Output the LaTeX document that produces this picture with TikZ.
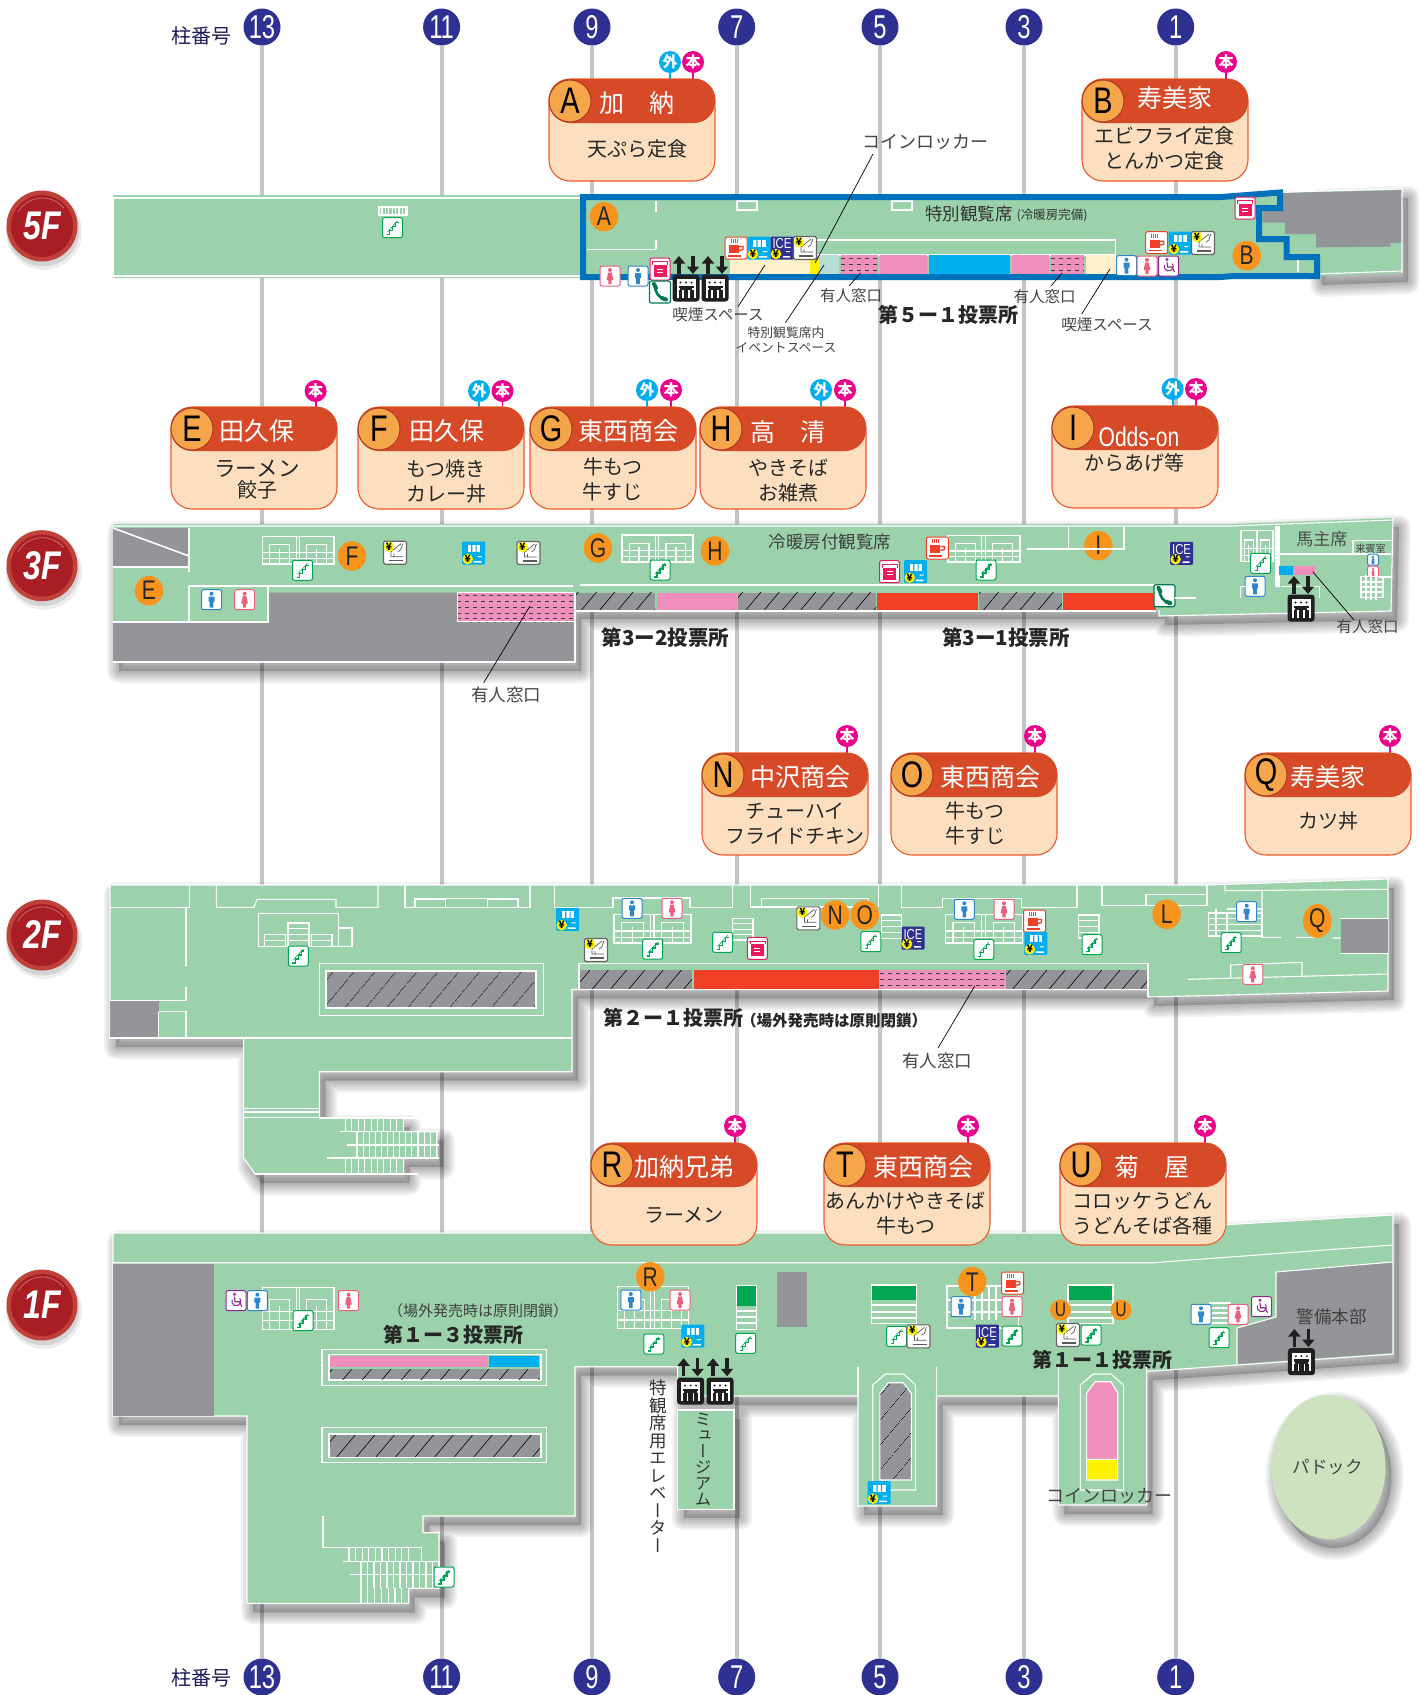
\documentclass[tikz,border=0pt]{standalone}
\usepackage{fontspec}
\usetikzlibrary{shapes.geometric,arrows.meta,patterns.meta,calc}
\setmainfont{Noto Sans CJK JP}
\newfontfamily\condfont[FakeStretch=0.78]{Liberation Sans}
\newfontfamily\numfont[FakeStretch=0.72]{Liberation Sans}
\newfontfamily\vertfont[RawFeature=+vert]{Noto Sans CJK JP}
\newfontfamily\badgefont[FakeStretch=0.8]{Liberation Sans}
\definecolor{floorc}{HTML}{9BD2AB}
\definecolor{grayc}{HTML}{939598}
\definecolor{pinkc}{HTML}{EF8FBB}
\definecolor{bluec}{HTML}{00AEEF}
\definecolor{redc}{HTML}{F04128}
\definecolor{creamc}{HTML}{FDF1CB}
\definecolor{tealc}{HTML}{B6DCD3}
\definecolor{yellowc}{HTML}{FFF200}
\definecolor{framec}{HTML}{0072BC}
\definecolor{colc}{HTML}{C4C5C7}
\definecolor{navyc}{HTML}{2E3192}
\definecolor{panelc}{HTML}{FDDFC0}
\definecolor{panelb}{HTML}{EE5A2B}
\definecolor{headc}{HTML}{D64A28}
\definecolor{badgec}{HTML}{F5A54A}
\definecolor{markc}{HTML}{F7941E}
\definecolor{stairc}{HTML}{00A651}
\definecolor{menc}{HTML}{2F86CC}
\definecolor{womenc}{HTML}{EE5F7C}
\definecolor{purc}{HTML}{92278F}
\definecolor{magc}{HTML}{EC008C}
\definecolor{labc}{HTML}{444444}
\definecolor{phonec}{HTML}{007A4D}
\definecolor{atmc}{HTML}{EC1C5C}
\definecolor{badgeo}{HTML}{C0403A}
\definecolor{badgei}{HTML}{A81E24}
\definecolor{paddockc}{HTML}{CDE3C0}
\tikzset{
 wl/.style={draw=white,line width=1.1},
 wlt/.style={draw=white,line width=1.6},
 lbl/.style={text=labc,inner sep=0,font=\fontsize{15.5}{16}\selectfont},
 lblb/.style={text=labc,inner sep=0,font=\fontsize{17.5}{18}\selectfont},
 lblc/.style={text=labc,inner sep=0,font=\fontsize{18}{18}\selectfont},
 vote/.style={text=black!85,inner sep=0,font=\fontsize{20}{20}\selectfont\bfseries},
 leaderline/.style={draw=black,line width=.7},
 colnum/.style={circle,fill=navyc,text=white,minimum size=37,inner sep=0,font=\fontsize{33}{33}\selectfont\numfont},
 colline/.style={draw=colc,line width=4},
 mk/.style={ellipse,fill=markc,minimum width=28.5,minimum height=29.5,inner sep=0,font=\fontsize{27}{27}\selectfont\condfont,text=black!85},
 mksmall/.style={mk,minimum width=21,minimum height=21,font=\fontsize{20}{20}\selectfont\condfont},
 ibox/.style={fill=white,rounded corners=2,line width=1},
 pin/.style={circle,minimum size=22,inner sep=0,text=white,font=\fontsize{15}{15}\selectfont\bfseries},
 yen/.style={circle,fill=yellowc,minimum size=10.5,inner sep=0,text=black,font=\fontsize{10}{10}\selectfont\bfseries},
}
\newcommand{\Rc}[5]{\fill[#1] (#2,#3) rectangle (#4,#5);}
\newcommand{\Softshadow}[1]{\begin{scope}[shift={(6,9)}]\foreach \w in {24,20,16,12,8,4}{\draw[black,draw opacity=.05,fill=black,fill opacity=.03,line width=\w,line join=round] #1;}\end{scope}}
\newcommand{\Hatch}[5][13]{\fill[grayc] (#2,#3) rectangle (#4,#5);\fill[pattern={Lines[angle=50,distance=#1pt,line width=.6pt]},pattern color=black] (#2,#3) rectangle (#4,#5);}
\newcommand{\DashPink}[5]{\fill[pinkc] (#1,#2) rectangle (#3,#4);\foreach \i in {1,...,#5}{\pgfmathsetmacro\yy{#2+(#4-#2)*(\i-.5)/#5}\draw[black!75,line width=.8,dash pattern=on 4 off 4] (#1,\yy) -- (#3,\yy);}}
\newcommand{\WRect}[4]{\draw[wl] (#1,#2) rectangle (#3,#4);}
\newcommand{\HGrid}[5]{\draw[wl] (#1,#2) rectangle (#3,#4);\foreach \i in {1,...,#5}{\pgfmathsetmacro\yy{#2+(#4-#2)*\i/(#5+1)}\draw[wl] (#1,\yy) -- (#3,\yy);}}
\newcommand{\VStair}[5]{\foreach \i in {0,...,#4}{\pgfmathsetmacro\xx{#1+#5*\i}\draw[wl] (\xx,#2) -- (\xx,#3);}}
\newcommand{\StairBlock}[4]{\pgfmathsetmacro\stW{(#3-#1)/100}\pgfmathsetmacro\stH{(#4-#2)/100}\begin{scope}[shift={(#1,#2)},x=\stW pt,y=-\stH pt]
 \draw[wl] (0,0) rectangle (100,100);\draw[wl] (47,0)--(47,100) (52,0)--(52,100);
 \draw[wl] (10,100)--(10,30)--(38,30)--(38,100) (62,100)--(62,30)--(90,30)--(90,100);
 \draw[wl] (0,58)--(100,58) (0,80)--(100,80) (24,45)--(24,100) (76,45)--(76,100);
\end{scope}}
\newcommand{\IconStairs}[2]{\begin{scope}[shift={(#1,#2)}]\draw[ibox,draw=stairc] (-10,-10) rectangle (10,10);\draw[stairc,line width=1.3] (-6,7)--(-3,7)--(-3,3)--(0,3)--(0,-1)--(3,-1)--(3,-5)--(6,-5);\draw[stairc,line width=.6] (-5,4)--(5,-7);\end{scope}}
\newcommand{\IconMen}[2]{\begin{scope}[shift={(#1,#2)}]\draw[ibox,draw=menc] (-10,-10) rectangle (10,10);\fill[menc] (0,-6) circle (2) (-3,-3) rectangle (3,2) (-1.8,2) rectangle (1.8,8);\end{scope}}
\newcommand{\IconWomen}[2]{\begin{scope}[shift={(#1,#2)}]\draw[ibox,draw=womenc] (-10,-10) rectangle (10,10);\fill[womenc] (0,-6) circle (2) (-1.8,-3.5)--(1.8,-3.5)--(3.4,4)--(-3.4,4)--cycle (-1.6,4) rectangle (1.6,8);\end{scope}}
\newcommand{\IconWheel}[2]{\begin{scope}[shift={(#1,#2)}]\draw[ibox,draw=purc] (-10,-10) rectangle (10,10);\fill[purc] (-1.5,-6.5) circle (1.6);\draw[purc,line width=1.1] (-1.5,-4)--(-1,1)--(3.5,1)--(6,6);\draw[purc,line width=1] (-4,-1) arc[start angle=200,end angle=-40,radius=4.5];\end{scope}}
\newcommand{\IconCoffee}[2]{\begin{scope}[shift={(#1,#2)}]\draw[ibox,draw=redc] (-11,-11) rectangle (11,11);\draw[redc,line width=.5] (-5,-9)--(-5,-5) (-3,-9)--(-3,-5) (-1,-9)--(-1,-5) (1,-9)--(1,-5);\fill[redc] (-7,-3) rectangle (3,5);\draw[redc,line width=1.4] (3,-1.5) -- (7,-1.5) -- (7,1.5) -- (3,2.5);\fill[redc] (-8,7) rectangle (5,8.5);\end{scope}}
\newcommand{\IconVend}[2]{\begin{scope}[shift={(#1,#2)}]\fill[bluec,rounded corners=1] (-11.5,-11.5) rectangle (11.5,11.5);\fill[white] (-6,-8) rectangle (6.5,-1);\fill[bluec] (-2.6,-8) rectangle (-1.4,-1) (1.8,-8) rectangle (3,-1);\fill[white] (0,8) rectangle (8,9.5) (4,3) rectangle (8,4);\node[yen] at (-6,6) {¥};\end{scope}}
\newcommand{\IconIce}[2]{\begin{scope}[shift={(#1,#2)}]\fill[navyc,rounded corners=1] (-11.5,-11.5) rectangle (11.5,11.5);\node[text=white,inner sep=0,font=\fontsize{14.5}{14}\selectfont\condfont] at (0,-4) {ICE};\fill[white] (1,8) rectangle (8,9.5) (4,3) rectangle (8,4);\node[yen] at (-6,6) {¥};\end{scope}}
\newcommand{\IconSmoke}[2]{\begin{scope}[shift={(#1,#2)}]\draw[fill=white,rounded corners=1.5,draw=black!60,line width=1.1] (-11.5,-11.5) rectangle (11.5,11.5);\draw[black!65,line width=1.4] (-6,8)--(8,8);\draw[black!65,line width=.7] (-4,4)--(-4,-1)--(6,-9) (-1,4)--(-1,1) (-4,4)--(8,4) (3,-1) .. controls (8,-3) and (6,-7) .. (8,-9);\node[yen] at (-6,-6) {¥};\end{scope}}
\newcommand{\IconAtm}[2]{\begin{scope}[shift={(#1,#2)}]\draw[ibox,draw=atmc] (-10,-11) rectangle (10,11);\fill[atmc] (-6.5,-4) rectangle (6.5,8);\draw[atmc,line width=.6] (-8,-7.5)--(8,-7.5)(-7.5,-7.5)--(-7.5,-4)(7.5,-7.5)--(7.5,-4);\draw[white,line width=.7] (-3,0)--(3,0) (-3,3)--(3,3);\end{scope}}
\newcommand{\IconPhone}[2]{\begin{scope}[shift={(#1,#2)}]\draw[ibox,draw=phonec,line width=1.2] (-10.5,-11) rectangle (10.5,11);\draw[phonec,line width=2.6] (-5,-7) .. controls (-5,1) and (-1,6) .. (6,8);\draw[phonec,line width=4,line cap=round] (-6,-8)--(-4,-4) (2,6)--(6,7.5);\end{scope}}
\newcommand{\IconElev}[2]{\begin{scope}[shift={(#1,#2)}]\fill[black!88,rounded corners=3] (-13.5,-13.5) rectangle (13.5,13.5);\fill[white] (-9.5,-9) rectangle (9.5,9.5);\fill[black!88] (-7.5,-2.5) rectangle (7.5,9.5);\fill[black!88] (-5.5,-5.5) circle (1.1) (0,-5.5) circle (1.1) (5.5,-5.5) circle (1.1);\draw[white,line width=1.2] (-3,2)--(-3,9.5) (3,2)--(3,9.5) (-7,2)--(-7,0) (7,2)--(7,0);\end{scope}}
\newcommand{\ElevArrows}[2]{\begin{scope}[shift={(#1,#2)}]\draw[black!88,line width=3.2,-{Triangle[width=12,length=7.5]}] (-7,9)--(-7,-9);\draw[black!88,line width=3.2,-{Triangle[width=12,length=7.5]}] (7,-9)--(7,9);\end{scope}}
\newcommand{\Mk}[4]{\node[mk] (#1) at (#2,#3) {#4};}
\newcommand{\ShopPanel}[9]{\draw[fill=panelc,draw=panelb,line width=1.1,rounded corners=21] (#2,#3) rectangle ++(166,102);\fill[headc,rounded corners=21] (#2,#3) rectangle ++(166,44);
 \node[circle,fill=badgec,draw=headc!80!black,line width=1,minimum size=42,inner sep=0,text=black,font=\fontsize{37}{37}\selectfont\condfont] (#1badge) at ($(#2,#3)+(21,22)$) {#4};
 \node[text=white,inner sep=0,font=\fontsize{25}{25}\selectfont] (#1title) at (#5,#6) {#7};
 \ShopBody{#1}#8#9}
\newcommand{\ShopBody}[4]{\node[align=center,text=black!85,inner sep=0,font=\fontsize{20}{25}\selectfont] (#1body) at (#2,#3) {#4};}
\newcommand{\PinHon}[3]{\draw[magc,line width=1.8] (#2,#3) -- ++(0,18);\node[pin,fill=magc] (#1) at (#2,#3) {本};}
\newcommand{\PinGai}[3]{\draw[bluec,line width=1.8] (#2,#3) -- ++(0,18);\node[pin,fill=bluec] (#1) at (#2,#3) {外};}
\newcommand{\FloorBadge}[3]{\begin{scope}[shift={(42,#2)}]\fill[black,opacity=.07] (2,6) circle (38);\fill[black,opacity=.1] (1,4) circle (36.5);\fill[badgeo] (0,0) circle (35.5);\fill[badgei] (0,0) circle (31);\draw[white,opacity=.35,line width=.8] (-24,-14) arc[start angle=210,end angle=320,radius=28];\node[text=white,inner sep=0,font=\fontsize{40}{40}\selectfont\badgefont\bfseries\itshape] (#1) at (0,0) {#3};\end{scope}}
\def\pFive{(113,195)--(1221,195)--(1402,189)--(1402,273)--(1316,276)--(1221,278)--(113,278)--cycle}
\def\pFiveEnd{(1310,192)--(1402,189)--(1402,273)--(1316,276)--cycle}
\def\pThree{(113,524)--(1230,524)--(1393,518)--(1391,611)--(1159,616)--(1159,610)--(575,610)--(575,662)--(113,662)--cycle}
\def\pTwo{(110,885)--(1207,885)--(1388,879)--(1388,991)--(1148,997)--(1148,989.5)--(572,989.5)--(572,1071.7)--(319.4,1071.7)--(319.4,1118)--(403.5,1118)--(403.5,1131.7)--(437,1131.7)--(437,1158)--(403.5,1158)--(403.5,1174)--(255,1174)--(243.6,1158)--(243.6,1038)--(110,1038)--cycle}
\def\pOne{(113,1233)--(1083,1233)--(1393,1215)--(1393,1354)--(1153,1371)--(1146.7,1371)--(1146.7,1505)--(1058.4,1505)--(1058.4,1396)--(936.5,1396)--(936.5,1506)--(858,1506)--(858,1396)--(677.6,1396)--(677.6,1366.7)--(575,1366.7)--(575,1516)--(423,1516)--(423,1532.7)--(439,1532.7)--(439,1588.3)--(408.7,1588.3)--(408.7,1603.3)--(247,1603.3)--(247,1416)--(113,1416)--cycle}
\def\pMuseum{(677.6,1410) rectangle (734,1509.3)}
\def\pPaddock{(1328.5,1467) ellipse [x radius=57pt,y radius=72pt]}
\begin{document}
\begin{tikzpicture}[x=1pt,y=-1pt]
\useasboundingbox (0,0) rectangle (1419,1695);
\fill[white] (0,0) rectangle (1419,1695);
\foreach \n/\x in {13/262,11/441.6,9/592,7/736.7,5/880,3/1024,1/1175.7}{
 \node[colnum] (top\n) at (\x,27) {\n};
 \node[colnum] (bot\n) at (\x,1677) {\n};
 \draw[colline] (top\n) -- (bot\n);
}
\node[text=navyc!60!black,inner sep=0,font=\fontsize{20}{20}\selectfont] (colA) at (201,36) {柱番号};
\node[text=navyc!60!black,inner sep=0,font=\fontsize{20}{20}\selectfont] (colB) at (201,1678) {柱番号};
\Softshadow{\pFiveEnd}\Softshadow{\pThree}\Softshadow{\pTwo}\Softshadow{\pOne}\Softshadow{\pMuseum}\Softshadow{\pPaddock}
\FloorBadge{f5}{226}{5F}\FloorBadge{f3}{565.7}{3F}\FloorBadge{f2}{935}{2F}\FloorBadge{f1}{1305}{1F}
% ============ 5F
\fill[floorc] \pFive;
\draw[wl] (113,198)--(1221,198) (113,276)--(1221,276) (113,198)--(113,276);
\fill[grayc] (1280.6,193)--(1401.8,190)--(1401.8,242.7)--(1390.5,243)--(1390.5,246.7)--(1316,247.3)--(1316,234)--(1285,234)--(1285,222.7)--(1262.5,222.7)--(1262.5,209.3)--(1280.6,209.3)--cycle;
\draw[wl] (1316,274)--(1402,271) (1280.6,192)--(1402,189)--(1402,273);
\draw[wl] (379,207) rectangle (407,215);\VStair{382}{207}{215}{7}{3.4}
\IconStairs{392.6}{227.7}
\draw[wl] (587,249.3)--(656,249.3) (656,201)--(656,212) (656,240)--(656,249.3);
\WRect{737}{201}{757}{210}\WRect{892}{201}{912}{210}
\node[text=black!80,inner sep=0,font=\fontsize{17.5}{18}\selectfont] (l5a) at (969,214) {特別観覧席};
\node[text=black!80,inner sep=0,font=\fontsize{12.5}{13}\selectfont] (l5b) at (1052,215.5) {(冷暖房完備)};
\draw[wl] (816,240)--(1115.6,240)--(1115.6,255);
\draw[wlt] (816,255)--(1115.6,255);
\Rc{creamc}{730}{259}{810}{274}\Rc{yellowc}{810}{259}{818.5}{274}\Rc{tealc}{818.5}{255}{839}{274}
\DashPink{841}{255}{878}{274}{3}\Rc{pinkc}{880}{255}{927}{274}\Rc{bluec}{929}{255}{1010}{274}
\Rc{pinkc}{1012}{255}{1049}{274}\DashPink{1050.5}{255}{1084}{274}{3}\Rc{creamc}{1086}{255}{1116}{274}
\draw[wl] (1298,258)--(1298,272);
\draw[framec,line width=6,line join=miter] (583,197)--(1221,197)--(1280,192.5)--(1280,208)--(1259,208)--(1259,239)--(1286.5,239)--(1286.5,257)--(1317,257)--(1317,276)--(1234,276)--(1221,277)--(583,277)--cycle;
\Mk{mA}{604}{216.7}{A}\Mk{mB}{1246.7}{255.7}{B}
\IconWomen{610}{276}\IconMen{638}{276}\IconAtm{660}{269}\IconPhone{660}{292}
\IconElev{686}{288}\IconElev{715}{288}\ElevArrows{686}{265}\ElevArrows{715}{265}
\IconCoffee{736}{248}\IconVend{759}{248}\IconIce{782}{248}\IconSmoke{805}{248}
\IconMen{1126.5}{265.7}\IconWomen{1147}{266}\IconWheel{1168.5}{266}
\IconCoffee{1156.7}{242.7}\IconVend{1180}{243}\IconSmoke{1203}{243}\IconAtm{1245}{208}
\node[lblc] (l5c) at (925,141.7) {コインロッカー};
\coordinate (c5c) at (815,263);\coordinate (c5cs) at (873,154);\draw[leaderline] (c5cs)--(c5c);
\coordinate (c5d) at (824,265);\coordinate (c5ds) at (785.5,322.7);\draw[leaderline] (c5ds)--(c5d);
\coordinate (c5e) at (765,265);\coordinate (c5es) at (738,306.7);\draw[leaderline] (c5es)--(c5e);
\coordinate (c5f) at (860.6,273);\coordinate (c5fs) at (849,286);\draw[leaderline] (c5fs)--(c5f);
\coordinate (c5g) at (1062,273);\coordinate (c5gs) at (1051,286);\draw[leaderline] (c5gs)--(c5g);
\coordinate (c5h) at (1110,269);\coordinate (c5hs) at (1081.7,314);\draw[leaderline] (c5hs)--(c5h);
\node[lbl] (l5d) at (718,315) {喫煙スペース};
\node[lbl] (l5e) at (851,296) {有人窓口};
\node[lbl] (l5f) at (1044.6,296.7) {有人窓口};
\node[vote] (l5g) at (948,315) {第５ー１投票所};
\node[lbl,font=\fontsize{12.8}{13}\selectfont] (l5h) at (786,333) {特別観覧席内};
\node[lbl,font=\fontsize{12.8}{13}\selectfont] (l5i) at (786,348) {イベントスペース};
\node[lbl] (l5j) at (1107,325) {喫煙スペース};
% ============ 3F
\fill[floorc] \pThree;
\draw[wl] (113,526)--(1230,526)--(1393,520) (1393,518)--(1391,611)--(1159,616)--(1159,610);
\Rc{grayc}{113}{528}{189}{567}
\draw[wlt] (113,528)--(189,556);
\fill[grayc] (268,592.7) rectangle (575,662) (113,621.7) rectangle (268,662);
\DashPink{457.4}{592.7}{575}{621.7}{5}
\draw[wl] (457.4,592.7) rectangle (575,621.7);
\draw[wlt] (189,528)--(189,572) (189,585.7)--(189,621.7) (113,567)--(189,567) (113,621.7)--(268,621.7)--(268,586) (189,586)--(573,586) (580,585)--(1155,585);
\draw[wl] (113,662)--(575,662)--(575,610);
\Hatch[14]{576}{592.7}{655}{610}\Rc{pinkc}{656.7}{592.7}{737}{610}\Hatch[14]{738}{592.7}{876.4}{610}
\Rc{redc}{877.3}{592.7}{977.7}{610}\Hatch[14]{979}{592.7}{1061.8}{610}\Rc{redc}{1063}{592.7}{1156}{610}
\draw[wl] (576,611)--(1156,611);
\IconMen{211.5}{599.7}\IconWomen{244.6}{599.7}
\Mk{mE}{149}{590.7}{E}\Mk{mF}{352}{556}{F}\Mk{mG}{598}{548}{G}\Mk{mH}{715}{551}{H}\Mk{mI}{1098.4}{545.7}{I}
\StairBlock{262.7}{536.7}{334}{564}\IconStairs{302.5}{570.3}
\IconSmoke{395}{552.7}\IconVend{473.7}{553}\IconSmoke{528.5}{553}
\StairBlock{622}{535}{693}{562}\IconStairs{660}{570}
\node[text=black!75,inner sep=0,font=\fontsize{17.5}{18}\selectfont] (l3a) at (830,542) {冷暖房付観覧席};
\StairBlock{948}{535.7}{1020}{562}\IconCoffee{937.4}{548}\IconAtm{889.5}{571.7}\IconVend{915.7}{571.7}\IconStairs{986}{570}
\draw[wlt] (1026.5,549)--(1124,549)--(1124,526) (1068.6,526)--(1068.6,549);
\IconIce{1181.6}{553.3}\IconPhone{1164.4}{595.7}
\draw[wlt] (1175,598)--(1196,598);
\StairBlock{1241}{530.7}{1273}{561.7}
\draw[white,line width=5] (1277,526)--(1277,586.7);
\IconStairs{1260.7}{563.3}\IconMen{1255}{586.3}
\draw[wl] (1240.4,598)--(1240.4,586.7)--(1250,586.7) (1280.6,586.7)--(1319.5,586.7)--(1319.5,598);
\node[text=black!70,inner sep=0,font=\fontsize{17}{17}\selectfont] (l3b) at (1321.8,539) {馬主席};
\draw[wl] (1277,554)--(1391,554) (1353,554)--(1353,540.7)--(1391,540.7);
\node[text=black!75,inner sep=0,font=\fontsize{10}{10}\selectfont] (l3c) at (1370.6,548.7) {来賓室};
\Rc{bluec}{1279}{565.7}{1293}{575.3}\Rc{pinkc}{1293}{565.7}{1315}{575.3}
\begin{scope}[shift={(1373,559.7)},scale=.55]\draw[ibox,draw=menc,line width=1] (-10,-10) rectangle (10,10);\fill[menc] (0,-5) circle (2.4) (-2.5,-2) rectangle (2.5,8);\end{scope}
\begin{scope}[shift={(1373,571.7)},scale=.55]\draw[ibox,draw=womenc,line width=1] (-10,-10) rectangle (10,10);\fill[womenc] (0,-5) circle (2.4) (-2.5,-2) rectangle (2.5,8);\end{scope}
\draw[wl] (1361,576.7) rectangle (1383,597.7);\draw[wl] (1361,582)--(1383,582) (1361,587)--(1383,587) (1361,592)--(1383,592) (1366,575)--(1366,600) (1371,575)--(1371,600) (1376,575)--(1376,600) (1378,577)--(1391,577);
\IconElev{1301}{608}\ElevArrows{1301}{585}
\coordinate (c3a) at (1312.7,571.7);\coordinate (c3as) at (1354,620);\draw[leaderline] (c3as)--(c3a);
\node[lbl] (l3d) at (1367.6,626.7) {有人窓口};
\node[vote,font=\fontsize{20.5}{21}\selectfont\bfseries] (l3e) at (665.7,637.6) {第3ー2投票所};
\node[vote,font=\fontsize{20.5}{21}\selectfont\bfseries] (l3f) at (1006,637.6) {第3ー1投票所};
\coordinate (c3b) at (530,606);\coordinate (c3bs) at (483.7,682.7);\draw[leaderline] (c3bs)--(c3b);
\node[lblb] (l3g) at (506,695) {有人窓口};
% ============ 2F
\fill[floorc] \pTwo;
\draw[wl] \pTwo;
\fill[grayc] (110,1001) rectangle (158.6,1038);
\draw[wl] (110,907.3)--(189.3,907.3)--(189.3,885.7);
\draw[wl] (216.3,885.7)--(216.3,907.3)--(254,907.3)--(257,899.3)--(336,899.3)--(336,907.3)--(378,907.3)--(378,885.7);
\draw[wl] (405,885.7)--(405,907.3)--(530,907.3)--(530,885.7) (415,907.3)--(415,899)--(445.6,899)--(445.6,907.3) (445.6,898.3)--(487.7,898.3)--(487.7,907.3) (487.7,899)--(518,899)--(518,907.3);
\draw[wl] (554.6,885.7)--(554.6,907.3)--(613,907.3)--(613,898)--(690,898)--(690,907.3)--(732.7,907.3)--(732.7,885.7);
\draw[wl] (750.8,885)--(750.8,907)--(761.6,907)--(761.6,898.7)--(868.6,898.7)--(868.6,907)--(750.8,907) (878.6,885)--(878.6,907);
\draw[wl] (901.5,885)--(901.5,907.3)--(942.7,907.3)--(942.7,898.7)--(1021.5,898.7)--(1021.5,907.3)--(1077,907.3)--(1077,885);
\draw[wl] (1102,885)--(1102,905.7)--(1207,905.7)--(1207,885) (1146,905.7)--(1146,894.3)--(1207,894.3);
\draw[wl] (1225,885)--(1225,890.7)--(1388,889.3) (1262,891)--(1262,937.3)--(1281.4,937.3) (1295.6,937.3)--(1317,937.3) (1332.5,938)--(1340.7,938);
\Rc{grayc}{1340.7}{918.3}{1388}{953.3}
\draw[wl] (1340.7,918.3)--(1388,918.3) (1340.7,953.3)--(1388,953.3);
\draw[wl] (186,907)--(186,965.7) (186,986.7)--(186,1000.7)--(110,1000.7) (158.6,1011.7)--(186,1011.7)--(186,1038) (158.6,1011.7)--(158.6,1038);
\draw[wlt] (243.6,1038)--(572,1038);
\draw[wl] (110,1038)--(243.6,1038);
\draw[wl] (319.4,963.3) rectangle (543.7,1015.3);
\Hatch[17]{326}{971}{536}{1008}\draw[wl] (326,971) rectangle (536,1008);
\draw[wl] (258.4,913.3) rectangle (338.3,946.7) (338.3,928) rectangle (352,946.7);
\HGrid{288}{923}{309}{946.7}{3}\HGrid{264.7}{934.3}{285.7}{946.7}{1}\HGrid{311.8}{934.3}{332}{946.7}{1}
\IconStairs{298.3}{956}
\draw[wl] (243.6,1108.7)--(319.4,1108.7) (243.6,1112)--(319.4,1112) (243.6,1117.5)--(319.4,1117.5);
\VStair{345.5}{1118}{1131.7}{9}{6.4}\VStair{357}{1132}{1158}{13}{6.1}\VStair{345.5}{1158}{1174}{9}{6.4}
\draw[wl] (319.4,1118)--(418,1118) (340,1131.7)--(438.5,1131.7) (347,1145)--(438.5,1145) (327,1158)--(438.5,1158) (255,1174)--(418,1174);
\Hatch[14]{579.5}{970}{692}{989}\Rc{redc}{694}{970}{878.6}{989}\DashPink{880}{970}{1005}{989}{3}\Hatch[14]{1006.3}{970}{1147}{989}
\draw[wlt] (579,963.3)--(1148,963.3)--(1148,996);\draw[wlt] (579,963.3)--(579,989);
\draw[wl] (572,989.5)--(1148,989.5);
\IconVend{567.7}{919.3}\IconSmoke{596}{950}\StairBlock{614}{914.3}{691}{943}\IconMen{632}{908.3}\IconWomen{672}{908.3}\IconStairs{652.7}{949}
\HGrid{732.7}{918.3}{753}{940}{3}\IconStairs{722.6}{942.3}\IconAtm{757.3}{948.3}
\IconSmoke{808.4}{918.3}\Mk{mN}{835.3}{915}{N}\Mk{mO}{864.7}{915}{O}
\HGrid{881.6}{915}{901.5}{938.3}{3}\IconStairs{870.8}{941.7}\IconIce{913}{938}
\StairBlock{945.3}{914.3}{1022.4}{943}\IconMen{964.3}{909.3}\IconWomen{1004}{909.3}\IconStairs{983.8}{949.3}\IconCoffee{1034.5}{921}\IconVend{1035.8}{943.3}
\HGrid{1078.7}{915}{1099}{938}{3}\IconStairs{1092}{944.7}
\Mk{mL}{1166.6}{914.3}{L}\Mk{mQ}{1317.3}{921}{Q}
\draw[wl] (1208.6,913) rectangle (1227,936);\HGrid{1208.6}{913}{1262}{936}{3}\draw[wl] (1216,909)--(1216,936) (1227,909)--(1262,909);
\IconMen{1246.7}{911.7}\IconStairs{1231}{942.7}
\draw[wl] (1188,979.3)--(1388,974) (1230.7,977)--(1230.7,965)--(1302,962.3)--(1302,975);
\IconWomen{1252.8}{974.3}
\node[vote] (l2a) at (673.5,1017.7) {第２ー１投票所};
\node[vote,font=\fontsize{15.5}{16}\selectfont\bfseries] (l2b) at (834,1020.7) {（場外発売時は原則閉鎖）};
\coordinate (c2a) at (974.7,986);\coordinate (c2as) at (938,1048);\draw[leaderline] (c2as)--(c2a);
\node[lblb] (l2c) at (937,1061) {有人窓口};
% ============ 1F
\fill[floorc] \pOne;
\draw[wl] \pOne;
\fill[floorc] \pMuseum;\draw[wl] \pMuseum;
\draw[wl] (113,1262.7)--(1153,1262.7)--(1392.6,1245);
\Rc{grayc}{113}{1264}{214}{1416}
\fill[grayc] (1276,1272)--(1392,1262)--(1392,1353)--(1237,1364)--(1237,1328)--(1276,1317)--cycle;
\draw[wl] (1237,1364)--(1237,1328)--(1276,1317)--(1276,1272)--(1392,1262);
\Rc{grayc}{776.8}{1271.7}{807}{1326.7}
\StairBlock{262.6}{1287.3}{334}{1329.3}\IconWheel{236}{1300.7}\IconMen{257.4}{1300.7}\IconWomen{348.5}{1300.7}\IconStairs{303}{1320.7}
\node[text=black!75,inner sep=0,font=\fontsize{15}{15}\selectfont] (l1a) at (478,1311) {（場外発売時は原則閉鎖）};
\node[vote] (l1b) at (453.4,1335) {第１ー３投票所};
\draw[wl] (322,1349.3) rectangle (546.2,1385.7);\draw[wl] (329,1354.3) rectangle (541,1380);
\Rc{pinkc}{329.8}{1356}{487.7}{1366.7}\Rc{bluec}{489}{1356}{539}{1366.7}\Hatch[15]{329.8}{1369.3}{539.7}{1379}
\draw[wl] (322,1427.3) rectangle (546.2,1462.3);\Hatch[15]{329}{1434}{541}{1457.3}\draw[wl] (329,1434) rectangle (541,1457.3);
\draw[wl] (323,1516)--(323,1547.3)--(421.7,1547.3)--(421.7,1561.7);
\VStair{349}{1547.3}{1561.7}{9}{6.6}\VStair{361}{1561.7}{1588}{12}{6.5}\VStair{361}{1588}{1603}{7}{6.8}
\draw[wl] (342.8,1561.7)--(439,1561.7) (350,1574.3)--(439,1574.3);
\IconStairs{444}{1577}
\StairBlock{617.3}{1286.7}{688.4}{1328.3}\IconMen{630.8}{1300}\IconWomen{680}{1300}\Mk{mR}{650.3}{1276.7}{R}
\IconVend{692.8}{1336}\IconStairs{653.8}{1344}
\Rc{stairc}{736.6}{1285.7}{756.5}{1306}\draw[wl] (736.6,1285.7) rectangle (756.5,1329.3);\draw[wl] (736.6,1311)--(756.5,1311) (736.6,1317)--(756.5,1317) (736.6,1323)--(756.5,1323);
\IconStairs{745.7}{1343.3}
\IconElev{690.6}{1391}\IconElev{720}{1391}\ElevArrows{690.6}{1367.3}\ElevArrows{720}{1367.3}
\node[text=black!80,inner sep=0,align=center,font=\fontsize{17.5}{17.5}\selectfont\vertfont] (l1c) at (658,1466) {特\\観\\席\\用\\エ\\レ\\ベ\\ー\\タ\\ー};
\node[text=black!80,inner sep=0,align=center,font=\fontsize{16.5}{16}\selectfont\vertfont] (l1d) at (703,1459) {ミ\\ュ\\ー\\ジ\\ア\\ム};
\Rc{stairc}{871.8}{1285}{916.8}{1300}\draw[wl] (871.8,1285) rectangle (916.8,1323.3);\draw[wl] (871.8,1305)--(916.8,1305) (871.8,1312)--(916.8,1312) (871.8,1318)--(916.8,1318);
\IconStairs{896.6}{1336.3}\IconSmoke{918.5}{1336.3}
\draw[wl] (947,1286) rectangle (1018.5,1328);\draw[wl] (975,1286)--(975,1320) (982,1286)--(982,1320) (989,1286)--(989,1320) (996,1286)--(996,1320) (947,1300)--(1018.5,1300) (947,1312)--(1018.5,1312);
\Mk{mT}{972.3}{1281.7}{T}\IconCoffee{1012.6}{1283}\IconMen{961}{1306.7}\IconWomen{1012}{1306.7}\IconIce{987.4}{1336}\IconStairs{1012}{1336}
\Rc{stairc}{1068}{1285}{1113}{1300}\draw[wl] (1068,1285) rectangle (1113,1323.3);\draw[wl] (1068,1305)--(1113,1305) (1068,1312)--(1113,1312) (1068,1318)--(1113,1318);
\node[mksmall] (mUa) at (1060.5,1310) {U};
\node[mksmall] (mUb) at (1121,1310) {U};
\IconSmoke{1068}{1335}\IconStairs{1091}{1335}
\node[vote] (l1e) at (1102.6,1360) {第１ー１投票所};
\HGrid{1209.8}{1303}{1230}{1323}{3}\IconMen{1201}{1314.3}\IconWomen{1238}{1314.3}\IconWheel{1261.5}{1306.7}\IconStairs{1219}{1337.7}
\node[text=black!75,inner sep=0,font=\fontsize{17.5}{18}\selectfont] (l1f) at (1331.7,1316.7) {警備本部};
\IconElev{1301.4}{1361.7}\ElevArrows{1301.4}{1338}
\draw[wl] (858,1367)--(858,1396) (936.5,1367)--(936.5,1396) (1058.4,1367)--(1058.4,1396) (1146.7,1367)--(1146.7,1396);
\draw[wl] (872.7,1385)--(885.3,1374)--(903.8,1374)--(915.5,1385)--(915.5,1490)--(872.7,1490)--cycle;
\def\pBayA{(879.8,1393.3)--(888.2,1382.7)--(903,1382.7)--(911.3,1393.3)--(911.3,1480)--(879.8,1480)--cycle}
\fill[grayc] \pBayA;\fill[pattern={Lines[angle=50,distance=17pt,line width=.6pt]},pattern color=black] \pBayA;
\draw[wl] \pBayA;
\IconVend{879}{1492.7}
\draw[wl] (1080.3,1385)--(1093.3,1374)--(1111,1374)--(1123.6,1385)--(1123.6,1490)--(1080.3,1490)--cycle;
\fill[pinkc] (1086.6,1393)--(1095,1381.7)--(1111,1381.7)--(1117.7,1393)--(1117.7,1459.3)--(1086.6,1459.3)--cycle;
\Rc{yellowc}{1086.6}{1459.3}{1117.7}{1480}
\draw[wl] (1086.6,1393)--(1095,1381.7)--(1111,1381.7)--(1117.7,1393)--(1117.7,1480)--(1086.6,1480)--cycle (1086.6,1459.3)--(1117.7,1459.3);
\node[lblc] (l1g) at (1109,1496) {コインロッカー};
\fill[paddockc] \pPaddock;
\node[lblb] (l1h) at (1327.5,1466.7) {パドック};
% ============ panels
\PinGai{pAg}{670}{62}\PinHon{pAh}{693}{62}
\ShopPanel{A}{549}{79}{A}{637}{103}{加　納}{{637.6}{149}{天ぷら定食}}{}
\PinHon{pBh}{1226}{62}
\ShopPanel{B}{1082}{79}{B}{1175}{98}{寿美家}{{1164}{148.6}{エビフライ定食\\とんかつ定食}}{}
\PinHon{pEh}{315.6}{391}
\ShopPanel{E}{171}{407}{E}{257}{431}{田久保}{{257}{478}{}}{}
\node[text=black!85,inner sep=0,font=\fontsize{21.5}{22}\selectfont] (Ebodya) at (257,468.5) {ラーメン};
\node[text=black!85,inner sep=0,font=\fontsize{20}{20}\selectfont] (Ebodyb) at (257,489.5) {餃子};
\PinGai{pFg}{479}{391}\PinHon{pFh}{502.5}{391}
\ShopPanel{F}{358}{407}{F}{447}{431}{田久保}{{446}{481}{もつ焼き\\カレー丼}}{}
\PinGai{pGg}{647}{390}\PinHon{pGh}{671}{390}
\ShopPanel{G}{530}{407}{G}{628}{431}{東西商会}{{612.7}{479}{牛もつ\\牛すじ}}{}
\PinGai{pHg}{821}{390}\PinHon{pHh}{845}{390}
\ShopPanel{H}{700}{407}{H}{788}{432}{高　清}{{788}{481}{やきそば\\お雑煮}}{}
\PinGai{pIg}{1172.6}{389}\PinHon{pIh}{1196}{389}
\ShopPanel{I}{1052}{406}{I}{1139}{436.6}{{\fontsize{27}{27}\selectfont\condfont Odds-on}}{{1134.7}{462.5}{からあげ等}}{}
\PinHon{pNh}{847}{736}
\ShopPanel{N}{702}{753}{N}{800}{777}{中沢商会}{{795}{823.5}{チューハイ\\フライドチキン}}{}
\PinHon{pOh}{1035}{736}
\ShopPanel{O}{891}{753}{O}{990}{777}{東西商会}{{975}{823.5}{牛もつ\\牛すじ}}{}
\PinHon{pQh}{1390}{736}
\ShopPanel{Q}{1245}{753}{Q}{1328}{777}{寿美家}{{1328}{821}{カツ丼}}{}
\PinHon{pRh}{735}{1126}
\ShopPanel{R}{591}{1143}{R}{684}{1167}{加納兄弟}{{684}{1215}{ラーメン}}{}
\PinHon{pTh}{968}{1126}
\ShopPanel{T}{824}{1143}{T}{923}{1167}{東西商会}{{905.6}{1214}{あんかけやきそば\\牛もつ}}{}
\PinHon{pUh}{1205}{1126}
\ShopPanel{U}{1060}{1143}{U}{1152}{1167}{菊　屋}{{1142}{1214}{コロッケうどん\\うどんそば各種}}{}
\end{tikzpicture}
\end{document}
